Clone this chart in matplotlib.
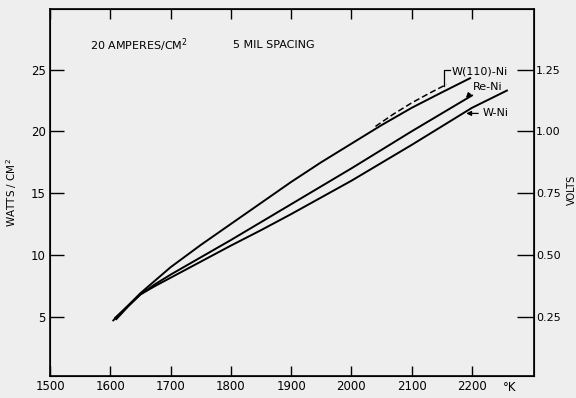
import matplotlib.pyplot as plt
from matplotlib.transforms import blended_transform_factory

# === Data ===
temp_w110 = [1605, 1650, 1700, 1750, 1800, 1850, 1900, 1950, 2000, 2050, 2100, 2150, 2197]
watts_w110 = [4.7, 6.9, 9.0, 10.8, 12.5, 14.2, 15.9, 17.5, 19.0, 20.5, 21.9, 23.15, 24.3]

temp_w110_dash = [2040, 2070, 2100, 2130, 2158]
watts_w110_dash = [20.4, 21.4, 22.3, 23.1, 23.8]

temp_re = [1608, 1630, 1650, 1675, 1700, 1750, 1800, 1850, 1900, 1950, 2000, 2050, 2100, 2150, 2200]
watts_re = [4.9, 5.9, 6.8, 7.65, 8.4, 9.8, 11.2, 12.65, 14.1, 15.55, 17.0, 18.5, 20.0, 21.45, 22.9]

temp_w = [1610, 1630, 1650, 1675, 1700, 1750, 1800, 1850, 1900, 1950, 2000, 2050, 2100, 2150, 2200, 2258]
watts_w = [4.8, 5.85, 6.8, 7.5, 8.15, 9.45, 10.75, 12.0, 13.3, 14.65, 16.0, 17.45, 18.9, 20.4, 21.9, 23.3]

x_ticks = [1500, 1600, 1700, 1800, 1900, 2000, 2100, 2200]
w_ticks = [5, 10, 15, 20, 25]
v_ticks = [0.25, 0.50, 0.75, 1.00, 1.25]
v_labels = ['0.25', '0.50', '0.75', '1.00', '1.25']

bg = '#eeeeee'
plt.rcParams['font.family'] = 'DejaVu Sans'

fig = plt.figure(figsize=(5.76, 3.98), dpi=100, facecolor=bg)
ax = fig.add_axes([50 / 576, 22 / 398, 484 / 576, 367 / 398])
ax.set_facecolor(bg)

ax.plot(temp_w110, watts_w110, color='black', lw=1.4)
ax.plot(temp_w110_dash, watts_w110_dash, color='black', lw=1.1, ls=(0, (4, 2)))
ax.plot(temp_re, watts_re, color='black', lw=1.4)
ax.plot(temp_w, watts_w, color='black', lw=1.4)

ax.set_xlim(1500, 2303)
ax.set_ylim(0.2, 29.9)
ax.set_xticks(x_ticks)
ax.set_xticklabels([str(t) for t in x_ticks], fontsize=8.5)
ax.set_yticks(w_ticks)
ax.set_yticklabels([str(t) for t in w_ticks], fontsize=8.5)
ax.tick_params(axis='x', direction='in', length=7, width=1, top=True, pad=3)
ax.tick_params(axis='y', direction='in', length=10, width=1, pad=3)
for s in ax.spines.values():
    s.set_linewidth(1.2)

ax.set_ylabel('WATTS / CM$^2$', fontsize=7.5)
ax.yaxis.set_label_coords(-0.064, 0.5)

# Volts axis (20 A/cm2 -> volts = watts / 20)
ax2 = ax.twinx()
ax2.set_ylim(0.2 / 20, 29.9 / 20)
ax2.set_yticks(v_ticks)
ax2.set_yticklabels(v_labels, fontsize=8)
ax2.tick_params(axis='y', direction='in', length=12, width=1, pad=1.5)
ax2.set_ylabel('VOLTS', fontsize=7, rotation=90)
ax2.yaxis.set_label_coords(1.068, 0.507)

trans = blended_transform_factory(ax.transData, ax.transAxes)
ax.text(2262, -0.03, '°K', fontsize=8.5, ha='center', va='center', transform=trans)

ax.text(1566, 27.0, '20 AMPERES/CM$^2$', fontsize=8, va='center')
ax.text(1803, 27.0, '5 MIL SPACING', fontsize=8, va='center')

# Curve labels with leaders
ax.text(2166, 24.85, 'W(110)-Ni', fontsize=8, va='center')
ax.plot([2163, 2153, 2153], [25.0, 25.0, 23.7], color='black', lw=0.9)

ax.text(2201, 23.6, 'Re-Ni', fontsize=8, va='center')
ax.annotate('', xy=(2186, 22.6), xytext=(2200, 23.2),
            arrowprops=dict(arrowstyle='-|>', color='black', lw=0.9,
                            connectionstyle='angle,angleA=45,angleB=0', mutation_scale=7))

ax.text(2218, 21.45, 'W-Ni', fontsize=8, va='center')
ax.annotate('', xy=(2186, 21.45), xytext=(2215, 21.45),
            arrowprops=dict(arrowstyle='-|>', color='black', lw=0.9, mutation_scale=7))

fig.savefig('out.png', dpi=100, facecolor=bg)
